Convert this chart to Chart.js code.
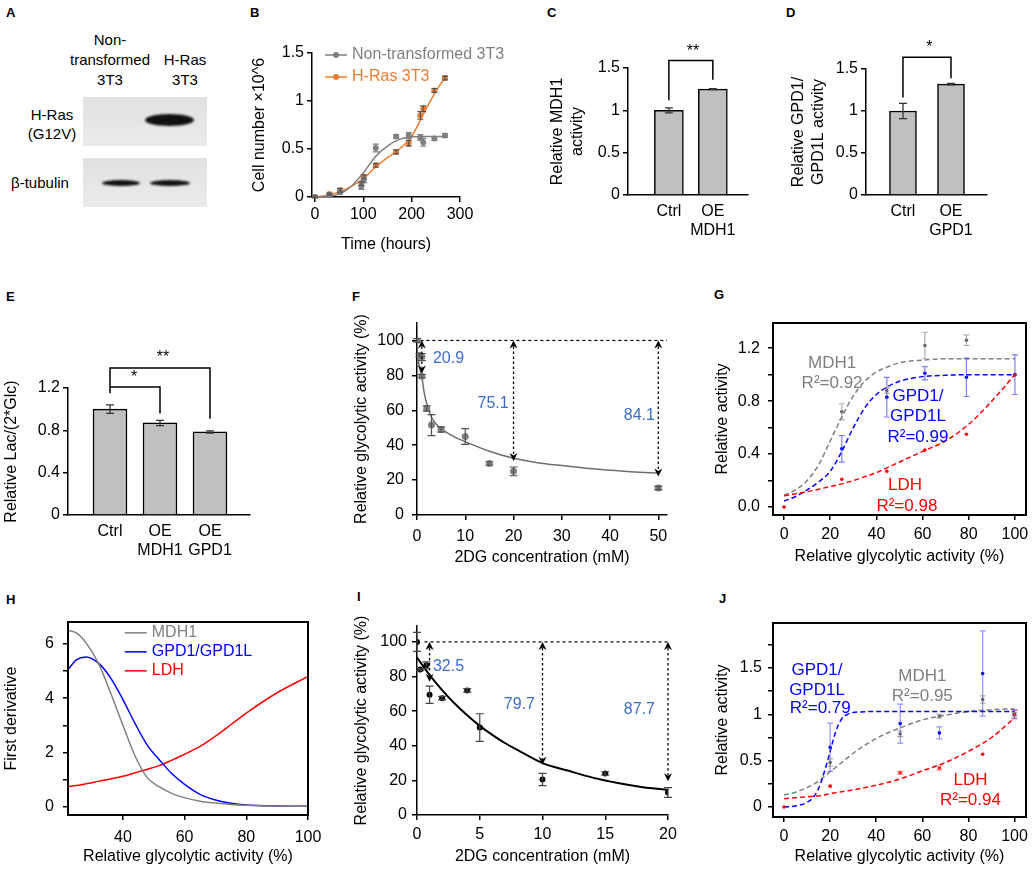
<!DOCTYPE html>
<html>
<head>
<meta charset="utf-8">
<script src="https://cdn.jsdelivr.net/npm/chart.js@4"></script>
<style>
  html, body { margin: 0; padding: 0; background: #fff; }
  body { position: relative; width: 1035px; height: 872px; overflow: hidden; font-family: "Liberation Sans", Arial, sans-serif; }
  canvas { position: absolute; }
  .lab { position: absolute; font-weight: bold; font-size: 13px; line-height: 13px; }
  .t { position: absolute; font-size: 15px; line-height: 20px; text-align: center; white-space: nowrap; }
  .blot { position: absolute; background: linear-gradient(#e1e1e1, #ebebeb); }
  .band { position: absolute; background: #111; border-radius: 50%; filter: blur(1.2px); }
</style>
</head>
<body>
<!-- panel letters -->
<div class="lab" style="left:6px;top:6px">A</div>
<div class="lab" style="left:250px;top:6px">B</div>
<div class="lab" style="left:547px;top:6px">C</div>
<div class="lab" style="left:786px;top:6px">D</div>
<div class="lab" style="left:6px;top:290px">E</div>
<div class="lab" style="left:352px;top:290px">F</div>
<div class="lab" style="left:714px;top:288px">G</div>
<div class="lab" style="left:6px;top:593px">H</div>
<div class="lab" style="left:357px;top:590px">I</div>
<div class="lab" style="left:719px;top:592px">J</div>

<!-- panel A: western blot -->
<div class="t" style="left:60px;top:30px;width:100px">Non-<br>transformed<br>3T3</div>
<div class="t" style="left:150px;top:50px;width:70px">H-Ras<br>3T3</div>
<div class="t" style="left:10px;top:105px;width:84px;line-height:19px">H-Ras<br>(G12V)</div>
<div class="t" style="left:0px;top:173px;width:80px">β-tubulin</div>
<div class="blot" style="left:83px;top:97px;width:124px;height:49px"></div>
<div class="blot" style="left:83px;top:158px;width:124px;height:49px"></div>
<div class="band" style="left:145px;top:114px;width:49px;height:12px"></div>
<div class="band" style="left:102px;top:180px;width:38px;height:6px"></div>
<div class="band" style="left:150px;top:180px;width:40px;height:6px"></div>

<canvas id="cB"></canvas>
<canvas id="cC"></canvas>
<canvas id="cD"></canvas>
<canvas id="cE"></canvas>
<canvas id="cF"></canvas>
<canvas id="cG"></canvas>
<canvas id="cH"></canvas>
<canvas id="cI"></canvas>
<canvas id="cJ"></canvas>

<script>
// ---- B: growth curves ----
const bTime = [0, 30, 52, 96, 101, 126, 168, 194, 218, 224, 247, 269];
const bNon = [0, 0.02, 0.05, 0.11, 0.18, 0.51, 0.63, 0.64, 0.62, 0.57, 0.61, 0.64];
const bNonErr = [0.01, 0.01, 0.02, 0.03, 0.03, 0.04, 0.02, 0.03, 0.03, 0.04, 0.02, 0.02];
const bRas = [0, 0.03, 0.07, 0.14, 0.21, 0.33, 0.47, 0.56, 0.85, 0.92, 1.11, 1.24];
const bRasErr = [0.01, 0.01, 0.02, 0.02, 0.02, 0.02, 0.02, 0.03, 0.04, 0.03, 0.02, 0.02];
const bFitT = [0, 25, 50, 75, 100, 125, 150, 175, 200, 225, 250, 270];
const bNonFit = [0, 0.005, 0.03, 0.11, 0.25, 0.42, 0.53, 0.6, 0.625, 0.63, 0.63, 0.63];
const bRasFit = [0, 0.015, 0.05, 0.11, 0.19, 0.31, 0.41, 0.5, 0.63, 0.87, 1.1, 1.25];
const bXTicks = [0, 100, 200, 300], bXLabels = ['0', '100', '200', '300'];
const bYTicks = [0, 0.5, 1, 1.5], bYLabels = ['0', '0.5', '1', '1.5'];

// ---- C / D: enzyme activity bars ----
const cCats = ['Ctrl', ['OE', 'MDH1']];
const cVals = [1.0, 1.25], cErr = [0.03, 0.006];
const dCats = ['Ctrl', ['OE', 'GPD1']];
const dVals = [1.0, 1.32], dErr = [0.09, 0.01];
const cdYTicks = [0, 0.5, 1, 1.5], cdYLabels = ['0', '0.5', '1', '1.5'];

// ---- E: lactate / glucose ----
const eCats = ['Ctrl', ['OE', 'MDH1'], ['OE', 'GPD1']];
const eVals = [1.0, 0.87, 0.785], eErr = [0.04, 0.025, 0.01];
const eYTicks = [0, 0.4, 0.8, 1.2], eYLabels = ['0', '0.4', '0.8', '1.2'];

// ---- F: 2DG titration ----
const fConc = [0, 0.5, 1, 1, 2, 3, 5, 10, 15, 20, 50];
const fAct = [100, 91.5, 90.5, 79.5, 61, 51.5, 49, 45, 29.5, 25, 15.5];
const fErr = [1, 0.8, 2, 1, 1.5, 6, 1.5, 4.5, 1, 2.5, 1];
const fFitX = [0, 0.25, 0.5, 1, 1.5, 2, 3, 4, 5, 7.5, 10, 15, 20, 25, 30, 35, 40, 45, 50];
const fFitY = [95, 89, 85, 79, 70, 64, 56, 52, 49.5, 45, 42, 36.5, 32.5, 30, 28.3, 26.8, 25.6, 24.7, 24];
const fDropX = [1, 20, 50], fDropEnd = [81, 31, 22], fDropLab = ['20.9', '75.1', '84.1'];
const fXTicks = [0, 10, 20, 30, 40, 50], fXLabels = ['0', '10', '20', '30', '40', '50'];
const fYTicks = [0, 20, 40, 60, 80, 100], fYLabels = ['0', '20', '40', '60', '80', '100'];

// ---- G: relative activity vs glycolytic activity ----
const gMdhX = [25, 44.5, 61, 79], gMdh = [0.72, 0.88, 1.22, 1.26], gMdhErr = [0.06, 0.02, 0.1, 0.04];
const gGpdX = [25, 44.5, 61, 79, 100], gGpd = [0.44, 0.83, 1.01, 0.98, 1.0], gGpdErr = [0.1, 0.15, 0.05, 0.145, 0.15];
const gLdhX = [0, 25, 44.5, 61, 79, 100], gLdh = [0, 0.21, 0.27, 0.43, 0.55, 1.0];
const gFitX = [0, 5, 10, 15, 20, 25, 30, 35, 40, 45, 50, 60, 70, 80, 90, 100];
const gMdhFit = [0.09, 0.13, 0.2, 0.32, 0.5, 0.68, 0.84, 0.95, 1.02, 1.06, 1.09, 1.11, 1.12, 1.12, 1.12, 1.12];
const gGpdFit = [0.045, 0.08, 0.13, 0.19, 0.27, 0.42, 0.6, 0.75, 0.85, 0.91, 0.95, 0.985, 0.995, 1.0, 1.0, 1.0];
const gLdhFit = [0.085, 0.1, 0.115, 0.135, 0.155, 0.175, 0.2, 0.23, 0.26, 0.3, 0.34, 0.42, 0.5, 0.625, 0.8, 1.0];
const gXTicks = [0, 20, 40, 60, 80, 100], gXLabels = ['0', '20', '40', '60', '80', '100'];
const gYTicks = [0, 0.2, 0.4, 0.6, 0.8, 1.0, 1.2], gYLabels = ['0.0', '', '0.4', '', '0.8', '', '1.2'];

// ---- H: first derivatives ----
const hX = [22.2, 25, 28, 32, 36, 40, 44, 48, 52, 56, 60, 65, 70, 75, 80, 90, 100];
const hMdh = [6.5, 6.4, 6.05, 5.3, 4.2, 3.0, 1.85, 1.05, 0.72, 0.48, 0.33, 0.2, 0.13, 0.08, 0.05, 0.02, 0.01];
const hGpd = [5.06, 5.42, 5.52, 5.3, 4.75, 3.95, 3.05, 2.25, 1.7, 1.2, 0.82, 0.45, 0.24, 0.12, 0.06, 0.02, 0.01];
const hLdh = [0.74, 0.78, 0.84, 0.93, 1.02, 1.12, 1.25, 1.38, 1.52, 1.72, 1.93, 2.22, 2.6, 3.02, 3.45, 4.2, 4.8];
const hXTicks = [40, 60, 80, 100], hXLabels = ['40', '60', '80', '100'];
const hYTicks = [0, 1, 2, 3, 4, 5, 6], hYLabels = ['0', '', '2', '', '4', '', '6'];

// ---- I: 2DG titration, second line ----
const iConc = [0, 0.25, 0.75, 1, 2, 4, 5, 10, 15, 20];
const iAct = [100, 84, 86.5, 69.5, 67.5, 72, 50.5, 20.5, 24, 13];
const iErr = [5.5, 0.6, 2, 5, 1, 1, 8, 3.5, 1, 2.8];
const iFitX = [0, 1, 2, 3, 4, 5, 6, 7, 8, 10, 12, 14, 16, 18, 20];
const iFitY = [91, 81, 72.2, 64.4, 57.6, 51.5, 46.3, 41.6, 37.6, 30, 25.7, 21.6, 18.5, 16.1, 14.5];
const iDropX = [1, 10, 20], iDropEnd = [77, 29, 19.5], iDropLab = ['32.5', '79.7', '87.7'];
const iXTicks = [0, 5, 10, 15, 20], iXLabels = ['0', '5', '10', '15', '20'];
const iYTicks = [0, 20, 40, 60, 80, 100], iYLabels = ['0', '20', '40', '60', '80', '100'];

// ---- J: relative activity, second line ----
const jGpdX = [20, 50.4, 67.4, 86.2, 100], jGpd = [0.645, 0.9, 0.8, 1.44, 1.0], jGpdErr = [0.26, 0.21, 0.065, 0.46, 0.05];
const jMdhX = [20, 50.4, 67.4, 86.2, 100], jMdh = [0.48, 0.79, 0.98, 1.16, 1.0], jMdhErr = [0.04, 0.03, 0.02, 0.04, 0.02];
const jLdhX = [0, 20, 50.4, 67.4, 86.2, 100], jLdh = [0, 0.225, 0.37, 0.42, 0.57, 1.0], jLdhErr = [0, 0, 0.015, 0.02, 0, 0.04];
const jFitX = [0, 5, 10, 12.5, 15, 17.5, 20, 22.5, 25, 27.5, 30, 40, 50, 60, 70, 80, 90, 100];
const jGpdFit = [0, 0.01, 0.05, 0.1, 0.2, 0.38, 0.6, 0.82, 0.95, 1.0, 1.02, 1.03, 1.03, 1.03, 1.03, 1.03, 1.03, 1.03];
const jMdhFit = [0.13, 0.16, 0.21, 0.24, 0.28, 0.33, 0.38, 0.43, 0.48, 0.53, 0.58, 0.74, 0.85, 0.94, 0.99, 1.03, 1.05, 1.06];
const jLdhFit = [0.09, 0.1, 0.11, 0.115, 0.12, 0.13, 0.145, 0.155, 0.165, 0.175, 0.185, 0.235, 0.3, 0.39, 0.48, 0.6, 0.75, 0.96];
const jYTicks = [0, 0.25, 0.5, 0.75, 1, 1.25, 1.5, 1.75], jYLabels = ['0', '', '0.5', '', '1', '', '1.5', ''];

const GRAY = '#808080', ORANGE = '#ed7d31', BLUE = '#0000ff', RED = '#ff0000', NUMBLUE = '#3b6dc9';
const FONT = '"Liberation Sans", Arial, sans-serif';

Chart.defaults.font.family = FONT;
Chart.defaults.font.size = 16;
Chart.defaults.color = '#000';
Chart.defaults.animation = false;
Chart.defaults.events = [];
Chart.defaults.plugins.legend.display = false;
Chart.defaults.plugins.tooltip.enabled = false;

const pts = (xs, ys) => xs.map((x, i) => ({x, y: ys[i]}));

// vertical error bars from dataset.errors
const errorBars = {
  id: 'errorBars',
  afterDatasetsDraw(chart) {
    const ctx = chart.ctx;
    chart.data.datasets.forEach((ds, i) => {
      if (!ds.errors) return;
      const meta = chart.getDatasetMeta(i);
      const ys = chart.scales[meta.yAxisID];
      ctx.save();
      ctx.strokeStyle = ds.errorColor || ds.borderColor;
      ctx.lineWidth = ds.errorWidth || 1.2;
      meta.data.forEach((el, j) => {
        const e = ds.errors[j];
        if (!e) return;
        const v = ds.data[j].y;
        const t = ys.getPixelForValue(v + e), b = ys.getPixelForValue(v - e);
        const w = ds.capWidth || 3.5;
        ctx.beginPath();
        ctx.moveTo(el.x, t); ctx.lineTo(el.x, b);
        ctx.moveTo(el.x - w, t); ctx.lineTo(el.x + w, t);
        ctx.moveTo(el.x - w, b); ctx.lineTo(el.x + w, b);
        ctx.stroke();
      });
      ctx.restore();
    });
  }
};

function head(ctx, x, y, dir) {
  // dir -1: tip points up, 1: tip points down
  ctx.beginPath();
  ctx.moveTo(x, y);
  ctx.lineTo(x - 4, y - dir * 8);
  ctx.lineTo(x, y - dir * 5.5);
  ctx.lineTo(x + 4, y - dir * 8);
  ctx.closePath();
  ctx.fill();
}

// text, brackets, arrows and legends placed in data coordinates
const marks = {
  id: 'marks',
  afterDatasetsDraw(chart, args, opts) {
    const {ctx, scales: {x, y}} = chart;
    const px = v => x.getPixelForValue(v), py = v => y.getPixelForValue(v);
    ctx.save();
    (opts.items || []).forEach(m => {
      ctx.fillStyle = ctx.strokeStyle = m.color || '#000';
      ctx.setLineDash([]);
      if (m.type === 'text') {
        ctx.font = (m.size || 16) + 'px ' + FONT;
        ctx.textAlign = m.align || 'center';
        ctx.textBaseline = 'middle';
        ctx.fillText(m.text, px(m.x), py(m.y));
      } else if (m.type === 'bracket') {
        ctx.lineWidth = 1.5;
        ctx.beginPath();
        ctx.moveTo(px(m.x1), py(m.y1)); ctx.lineTo(px(m.x1), py(m.top));
        ctx.lineTo(px(m.x2), py(m.top)); ctx.lineTo(px(m.x2), py(m.y2));
        ctx.stroke();
      } else if (m.type === 'arrow') {
        const X = px(m.x), a = py(m.y1), b = py(m.y2);
        ctx.lineWidth = 1.3;
        ctx.setLineDash([2.5, 2.5]);
        ctx.beginPath(); ctx.moveTo(X, a + 6); ctx.lineTo(X, b - 6); ctx.stroke();
        ctx.setLineDash([]);
        head(ctx, X, a, -1); head(ctx, X, b, 1);
      } else if (m.type === 'legend') {
        ctx.font = '16px ' + FONT;
        ctx.textAlign = 'left';
        ctx.textBaseline = 'middle';
        ctx.lineWidth = 1.5;
        m.entries.forEach((e, k) => {
          const X = px(m.x), Y = py(m.y) + k * m.gap;
          ctx.strokeStyle = ctx.fillStyle = e.color;
          ctx.beginPath(); ctx.moveTo(X, Y); ctx.lineTo(X + m.len, Y); ctx.stroke();
          if (m.dot) { ctx.beginPath(); ctx.arc(X + m.len / 2, Y, 3, 0, 2 * Math.PI); ctx.fill(); }
          ctx.fillText(e.text, X + m.len + 5, Y);
        });
      }
    });
    ctx.restore();
  }
};

const frame = {
  id: 'frame',
  afterDraw(chart, args, opts) {
    if (!opts.on) return;
    const {ctx, chartArea: a} = chart;
    ctx.save();
    ctx.strokeStyle = '#000';
    ctx.lineWidth = 2;
    ctx.strokeRect(a.left, a.top, a.right - a.left, a.bottom - a.top);
    ctx.restore();
  }
};

Chart.register(errorBars, marks, frame);

// canvas box and plot area in page pixels
function setup(id, box, area) {
  const c = document.getElementById(id);
  c.width = box[2] - box[0];
  c.height = box[3] - box[1];
  c.style.left = box[0] + 'px';
  c.style.top = box[1] + 'px';
  return {c, x0: box[0], y1: box[3],
    pad: {left: 0, top: area[1] - box[1], right: box[2] - area[2], bottom: 0},
    yw: area[0] - box[0], xh: box[3] - area[3]};
}

function lin(g, dir, o) {
  const s = {
    type: 'linear', min: o.min, max: o.max, offset: false,
    border: {display: true, color: '#000', width: 1.5},
    grid: {display: true, offset: false, drawOnChartArea: false, drawTicks: !o.noTicks, tickLength: 5, color: '#000', lineWidth: 1.5},
    ticks: {color: '#000', font: {size: 16}, padding: o.pad ?? 3, autoSkip: false, maxRotation: 0, minRotation: 0,
      callback: (v, i) => o.labels[i]},
    afterBuildTicks: sc => { sc.ticks = o.ticks.map(v => ({value: v})); },
    title: {display: !!o.title, text: o.title || '', color: '#000', font: {size: 16}}
  };
  if (dir === 'y') {
    s.afterFit = sc => { sc.width = g.yw; };
    s.title.padding = {top: o.title ? o.tc - g.x0 - 9.6 : 0, bottom: 0};
  } else {
    s.afterFit = sc => { sc.height = g.xh; };
    s.title.padding = {top: 0, bottom: o.title ? g.y1 - o.tc - 9.6 : 0};
  }
  return s;
}

function base(g, scales, plugins) {
  return {responsive: false, layout: {padding: g.pad}, scales, plugins: plugins || {}};
}

const line = (data, color, extra) => Object.assign({data, showLine: true, pointRadius: 0, borderColor: color,
  borderWidth: 1.5, cubicInterpolationMode: 'monotone', fill: false}, extra || {});
const dots = (data, color, r, extra) => Object.assign({data, showLine: false, pointRadius: r, backgroundColor: color,
  borderColor: color, borderWidth: 0}, extra || {});

// ---------- B ----------
const gB = setup('cB', [246, 30, 530, 260], [312, 53, 460, 197]);
new Chart(gB.c, {
  type: 'scatter',
  data: {datasets: [
    dots(pts(bTime, bNon), GRAY, 3, {errors: bNonErr, capWidth: 3}),
    dots(pts(bTime, bRas), ORANGE, 3, {errors: bRasErr, capWidth: 3, errorColor: '#555'}),
    line(pts(bFitT, bNonFit), GRAY),
    line(pts(bFitT, bRasFit), ORANGE)
  ]},
  options: base(gB, {
    x: lin(gB, 'x', {min: -6, max: 300, ticks: bXTicks, labels: bXLabels, title: 'Time (hours)', tc: 245}),
    y: lin(gB, 'y', {min: 0, max: 1.5, ticks: bYTicks, labels: bYLabels, title: 'Cell number ×10^6', tc: 260})
  }, {marks: {items: [
    {type: 'legend', x: 21, y: 1.479, gap: 22, len: 22, dot: true, entries: [
      {text: 'Non-transformed 3T3', color: GRAY}, {text: 'H-Ras 3T3', color: ORANGE}]}
  ]}})
});

// ---------- C / D ----------
function barChart(id, box, area, cats, vals, errs, xr, yr, ticks, labels, title, tc, barW, items) {
  const g = setup(id, box, area);
  new Chart(g.c, {
    type: 'bar',
    data: {datasets: [{
      data: cats.map((c, i) => ({x: i, y: vals[i]})),
      backgroundColor: '#c0c0c0', borderColor: '#000', borderWidth: 1.5, barThickness: barW,
      errors: errs, errorColor: '#333', capWidth: 4, errorWidth: 1.3
    }]},
    options: base(g, {
      x: lin(g, 'x', {min: xr[0], max: xr[1], ticks: cats.map((c, i) => i), labels: cats, noTicks: true, pad: 7}),
      y: lin(g, 'y', {min: yr[0], max: yr[1], ticks, labels, title, tc})
    }, {marks: {items}})
  });
}

barChart('cC', [540, 35, 760, 250], [628, 68, 748, 195], cCats, cVals, cErr, [-0.93, 1.8], [0, 1.5],
  cdYTicks, cdYLabels, ['Relative MDH1', 'activity'], 558, 29, [
    {type: 'bracket', x1: 0, x2: 1, y1: 1.12, y2: 1.36, top: 1.59},
    {type: 'text', text: '**', x: 0.55, y: 1.69}
  ]);

barChart('cD', [780, 35, 1000, 250], [866, 69, 987, 195], dCats, dVals, dErr, [-0.77, 1.75], [0, 1.5],
  cdYTicks, cdYLabels, ['Relative GPD1/', 'GPD1L activity'], 799, 27, [
    {type: 'bracket', x1: 0, x2: 1, y1: 1.16, y2: 1.39, top: 1.64},
    {type: 'text', text: '*', x: 0.55, y: 1.75}
  ]);

// ---------- E ----------
barChart('cE', [0, 340, 262, 565], [68, 388, 250, 515], eCats, eVals, eErr, [-0.84, 2.8], [0, 1.2],
  eYTicks, eYLabels, 'Relative Lac/(2*Glc)', 12, 34, [
    {type: 'bracket', x1: 0, x2: 1, y1: 1.15, y2: 0.96, top: 1.21},
    {type: 'text', text: '*', x: 0.48, y: 1.3},
    {type: 'bracket', x1: 0, x2: 2, y1: 1.21, y2: 0.91, top: 1.39},
    {type: 'text', text: '**', x: 1.06, y: 1.49}
  ]);

// ---------- F ----------
const gF = setup('cF', [345, 300, 680, 575], [417, 323, 667, 515]);
new Chart(gF.c, {
  type: 'scatter',
  data: {datasets: [
    dots(pts(fConc, fAct), GRAY, 3.5, {errors: fErr, errorColor: '#555', capWidth: 4}),
    line(pts(fFitX, fFitY), '#6e6e6e'),
    line(pts([0.7, 51.8], [100, 100]), '#000', {borderWidth: 1.2, borderDash: [3, 3], cubicInterpolationMode: 'default'})
  ]},
  options: base(gF, {
    x: lin(gF, 'x', {min: 0, max: 51.8, ticks: fXTicks, labels: fXLabels, pad: 7, title: '2DG concentration (mM)', tc: 558}),
    y: lin(gF, 'y', {min: 0, max: 110, ticks: fYTicks, labels: fYLabels, pad: 8, title: 'Relative glycolytic activity (%)', tc: 362})
  }, {marks: {items: [
    ...fDropX.map((x, i) => ({type: 'arrow', x, y1: 100, y2: fDropEnd[i]})),
    {type: 'text', text: fDropLab[0], x: 3.3, y: 89.7, align: 'left', color: NUMBLUE},
    {type: 'text', text: fDropLab[1], x: 19, y: 64, align: 'right', color: NUMBLUE},
    {type: 'text', text: fDropLab[2], x: 49.3, y: 57, align: 'right', color: NUMBLUE}
  ]}})
});

// ---------- G ----------
const gG = setup('cG', [700, 300, 1040, 575], [773, 323, 1026, 515]);
const dash = {borderDash: [5, 3]};
new Chart(gG.c, {
  type: 'scatter',
  data: {datasets: [
    dots(pts(gLdhX, gLdh), RED, 1.8),
    dots(pts(gGpdX, gGpd), BLUE, 1.8, {errors: gGpdErr, errorColor: 'rgba(60,60,255,0.65)', capWidth: 3}),
    dots(pts(gMdhX, gMdh), '#666', 1.8, {errors: gMdhErr, errorColor: 'rgba(120,120,120,0.6)', capWidth: 3}),
    line(pts(gFitX, gLdhFit), RED, dash),
    line(pts(gFitX, gGpdFit), BLUE, dash),
    line(pts(gFitX, gMdhFit), GRAY, dash)
  ]},
  options: base(gG, {
    x: lin(gG, 'x', {min: -4.8, max: 104.8, ticks: gXTicks, labels: gXLabels, pad: 5, title: 'Relative glycolytic activity (%)', tc: 557}),
    y: lin(gG, 'y', {min: -0.06, max: 1.39, ticks: gYTicks, labels: gYLabels, pad: 8, title: 'Relative activity', tc: 723})
  }, {frame: {on: true}, marks: {items: [
    {type: 'text', text: 'MDH1', x: 20.8, y: 1.087, size: 17, color: GRAY},
    {type: 'text', text: 'R²=0.92', x: 20.8, y: 0.936, size: 17, color: GRAY},
    {type: 'text', text: 'GPD1/', x: 58, y: 0.838, size: 17, color: BLUE},
    {type: 'text', text: 'GPD1L', x: 58, y: 0.687, size: 17, color: BLUE},
    {type: 'text', text: 'R²=0.99', x: 58, y: 0.528, size: 17, color: BLUE},
    {type: 'text', text: 'LDH', x: 52.4, y: 0.166, size: 17, color: RED},
    {type: 'text', text: 'R²=0.98', x: 53.2, y: 0.008, size: 17, color: RED}
  ]}})
});

// ---------- H ----------
const gH = setup('cH', [0, 598, 330, 872], [68, 622, 308, 815]);
new Chart(gH.c, {
  type: 'scatter',
  data: {datasets: [
    line(pts(hX, hMdh), GRAY),
    line(pts(hX, hGpd), BLUE),
    line(pts(hX, hLdh), RED)
  ]},
  options: base(gH, {
    x: lin(gH, 'x', {min: 22.2, max: 100, ticks: hXTicks, labels: hXLabels, pad: 8, title: 'Relative glycolytic activity (%)', tc: 857}),
    y: lin(gH, 'y', {min: -0.31, max: 6.81, ticks: hYTicks, labels: hYLabels, pad: 9, title: 'First derivative', tc: 12})
  }, {frame: {on: true}, marks: {items: [
    {type: 'legend', x: 40.6, y: 6.41, gap: 19, len: 22, dot: false, entries: [
      {text: 'MDH1', color: GRAY}, {text: 'GPD1/GPD1L', color: BLUE}, {text: 'LDH', color: RED}]}
  ]}})
});

// ---------- I ----------
const gI = setup('cI', [345, 598, 690, 872], [417, 626, 668, 815]);
new Chart(gI.c, {
  type: 'scatter',
  data: {datasets: [
    dots(pts(iConc, iAct), '#000', 3, {errors: iErr, errorColor: '#444', capWidth: 4}),
    line(pts(iFitX, iFitY), '#000', {borderWidth: 2}),
    line(pts([0.6, 20], [100, 100]), '#000', {borderWidth: 1.2, borderDash: [3, 3], cubicInterpolationMode: 'default'})
  ]},
  options: base(gI, {
    x: lin(gI, 'x', {min: 0, max: 20, ticks: iXTicks, labels: iXLabels, pad: 5, title: '2DG concentration (mM)', tc: 857}),
    y: lin(gI, 'y', {min: 0, max: 109.2, ticks: iYTicks, labels: iYLabels, pad: 5, title: 'Relative glycolytic activity (%)', tc: 362})
  }, {marks: {items: [
    ...iDropX.map((x, i) => ({type: 'arrow', x, y1: 100, y2: iDropEnd[i]})),
    {type: 'text', text: iDropLab[0], x: 1.27, y: 85.5, align: 'left', color: NUMBLUE},
    {type: 'text', text: iDropLab[1], x: 9.4, y: 63.6, align: 'right', color: NUMBLUE},
    {type: 'text', text: iDropLab[2], x: 18.96, y: 60.7, align: 'right', color: NUMBLUE}
  ]}})
});

// ---------- J ----------
const gJ = setup('cJ', [700, 598, 1040, 872], [773, 623, 1026, 817]);
new Chart(gJ.c, {
  type: 'scatter',
  data: {datasets: [
    dots(pts(jLdhX, jLdh), RED, 1.8, {errors: jLdhErr, errorColor: 'rgba(255,80,80,0.7)', capWidth: 3}),
    dots(pts(jGpdX, jGpd), BLUE, 1.8, {errors: jGpdErr, errorColor: 'rgba(60,60,255,0.55)', capWidth: 3}),
    dots(pts(jMdhX, jMdh), '#666', 1.8, {errors: jMdhErr, errorColor: 'rgba(120,120,120,0.6)', capWidth: 3}),
    line(pts(jFitX, jLdhFit), RED, dash),
    line(pts(jFitX, jGpdFit), BLUE, dash),
    line(pts(jFitX, jMdhFit), GRAY, dash)
  ]},
  options: base(gJ, {
    x: lin(gJ, 'x', {min: -4.8, max: 105, ticks: gXTicks, labels: gXLabels, pad: 5, title: 'Relative glycolytic activity (%)', tc: 857}),
    y: lin(gJ, 'y', {min: -0.108, max: 1.986, ticks: jYTicks, labels: jYLabels, pad: 6, title: 'Relative activity', tc: 723})
  }, {frame: {on: true}, marks: {items: [
    {type: 'text', text: 'GPD1/', x: 14.3, y: 1.48, size: 17, color: BLUE},
    {type: 'text', text: 'GPD1L', x: 14.3, y: 1.26, size: 17, color: BLUE},
    {type: 'text', text: 'R²=0.79', x: 15.7, y: 1.06, size: 17, color: BLUE},
    {type: 'text', text: 'MDH1', x: 60, y: 1.41, size: 17, color: GRAY},
    {type: 'text', text: 'R²=0.95', x: 60, y: 1.2, size: 17, color: GRAY},
    {type: 'text', text: 'LDH', x: 80.9, y: 0.29, size: 17, color: RED},
    {type: 'text', text: 'R²=0.94', x: 80.9, y: 0.076, size: 17, color: RED}
  ]}})
});
</script>
</body>
</html>
